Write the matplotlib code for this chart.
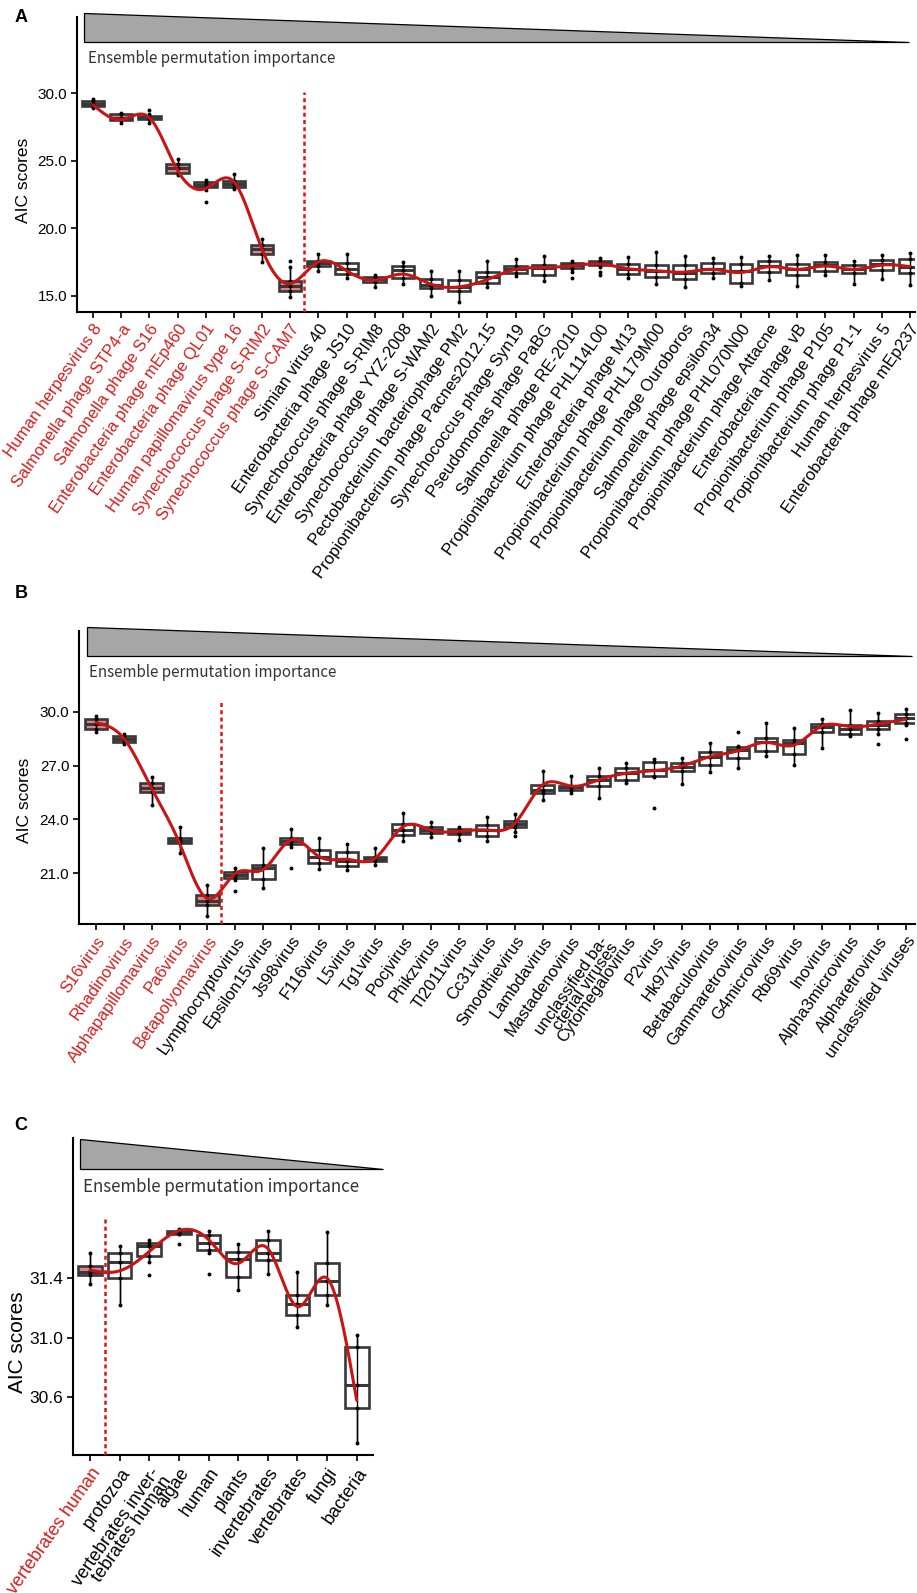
import numpy as np
import matplotlib
matplotlib.use("Agg")
import matplotlib.pyplot as plt
from matplotlib.patches import Polygon
from matplotlib.transforms import ScaledTranslation

plt.rcParams['font.family'] = ['Liberation Sans', 'DejaVu Sans']

# ---- panel A: species ----
a_labels = ["Human herpesvirus 8", "Salmonella phage STP4-a", "Salmonella phage S16",
            "Enterobacteria phage mEp460", "Enterobacteria phage QL01",
            "Human papillomavirus type 16", "Synechococcus phage S-RIM2",
            "Synechococcus phage S-CAM7", "Simian virus 40", "Enterobacteria phage JS10",
            "Synechococcus phage S-RIM8", "Enterobacteria phage YYZ-2008",
            "Synechococcus phage S-WAM2", "Pectobacterium bacteriophage PM2",
            "Propionibacterium phage Pacnes2012.15", "Synechococcus phage Syn19",
            "Pseudomonas phage PaBG", "Salmonella phage RE-2010",
            "Propionibacterium phage PHL114L00", "Enterobacteria phage M13",
            "Propionibacterium phage PHL179M00", "Propionibacterium phage Ouroboros",
            "Salmonella phage epsilon34", "Propionibacterium phage PHL070N00",
            "Propionibacterium phage Attacne", "Enterobacteria phage vB",
            "Propionibacterium phage P105", "Propionibacterium phage P1-1",
            "Human herpesvirus 5", "Enterobacteria phage mEp237"]
a_q1 = [29.06, 28.02, 28.07, 24.12, 23.03, 23.03, 18.09, 15.35, 17.2, 16.6, 16.0, 16.3, 15.55,
        15.37, 15.96, 16.66, 16.56, 17.08, 17.27, 16.61, 16.36, 16.21, 16.66, 15.92, 16.78,
        16.53, 16.83, 16.71, 16.9, 16.71]
a_med = [29.2, 28.2, 28.2, 24.45, 23.2, 23.3, 18.45, 15.7, 17.4, 16.95, 16.2, 16.9, 15.8,
         15.65, 16.4, 17.0, 17.05, 17.3, 17.45, 17.0, 16.85, 16.7, 16.95, 16.8, 17.2, 17.0,
         17.25, 17.0, 17.35, 17.1]
a_q3 = [29.43, 28.47, 28.34, 24.76, 23.4, 23.5, 18.76, 16.09, 17.57, 17.4, 16.4, 17.2, 16.27,
        16.16, 16.78, 17.2, 17.3, 17.45, 17.57, 17.35, 17.27, 17.27, 17.4, 17.32, 17.6, 17.37,
        17.5, 17.27, 17.67, 17.7]
a_lo = [28.9, 27.78, 27.8, 23.97, 22.83, 22.9, 17.5, 14.93, 16.8, 16.3, 15.67, 15.9, 15.0,
        14.56, 15.67, 16.46, 16.1, 17.0, 17.1, 16.3, 15.87, 15.67, 16.34, 15.72, 16.16, 15.72,
        16.5, 15.9, 16.2, 15.79]
a_hi = [29.6, 28.57, 28.5, 25.1, 23.57, 24.0, 19.2, 17.15, 18.1, 18.06, 16.53, 17.53, 16.8,
        16.85, 17.57, 17.7, 17.94, 17.6, 17.82, 17.9, 18.26, 17.94, 17.77, 17.84, 17.94, 18.0,
        18.0, 17.6, 17.99, 18.19]
a_out_idx = [2, 4, 7, 17, 17, 18, 18]
a_out_val = [28.8, 21.94, 17.57, 16.78, 16.3, 16.78, 16.53]
a_fit = [29.15, 28.05, 28.2, 24.3, 22.95, 23.45, 18.45, 15.9, 17.5, 16.85, 16.15, 16.6, 15.85,
         15.65, 16.2, 16.95, 17.08, 17.22, 17.35, 17.0, 16.85, 16.75, 16.95, 16.72, 17.15,
         16.95, 17.2, 16.95, 17.27, 17.15]

# ---- panel B: genera ----
b_labels = ["S16virus", "Rhadinovirus", "Alphapapillomavirus", "Pa6virus", "Betapolyomavirus",
            "Lymphocryptovirus", "Epsilon15virus", "Js98virus", "F116virus", "L5virus",
            "Tg1virus", "Pocjvirus", "Phikzvirus", "Tl2011virus", "Cc31virus", "Smoothievirus",
            "Lambdavirus", "Mastadenovirus", "unclassified ba-\ncterial viruses",
            "Cytomegalovirus", "P2virus", "Hk97virus", "Betabaculovirus", "Gammaretrovirus",
            "G4microvirus", "Rb69virus", "Inovirus", "Alpha3microvirus", "Alpharetrovirus",
            "unclassified viruses"]
b_q1 = [29.04, 28.29, 25.53, 22.67, 19.24, 20.76, 20.71, 22.62, 21.56, 21.41, 21.71, 23.12,
        23.27, 23.19, 23.08, 23.56, 25.45, 25.64, 25.86, 26.2, 26.42, 26.72, 27.03, 27.4, 27.81,
        27.64, 28.85, 28.74, 29.02, 29.39]
b_med = [29.3, 28.5, 25.77, 22.8, 19.47, 20.9, 21.28, 22.8, 21.89, 21.7, 21.8, 23.41, 23.4,
         23.3, 23.41, 23.75, 25.64, 25.8, 26.2, 26.57, 26.75, 26.94, 27.5, 27.87, 28.33, 28.24,
         29.13, 29.05, 29.26, 29.63]
b_q3 = [29.61, 28.65, 26.05, 22.95, 19.8, 21.1, 21.47, 22.99, 22.3, 22.21, 21.93, 23.73,
        23.56, 23.47, 23.69, 23.93, 25.92, 25.88, 26.44, 26.86, 27.22, 27.16, 27.77, 28.01,
        28.55, 28.42, 29.31, 29.26, 29.5, 29.85]
b_lo = [28.89, 28.2, 24.8, 22.15, 18.63, 20.65, 20.17, 22.45, 21.22, 21.19, 21.47, 22.82,
        23.04, 22.86, 22.82, 23.32, 25.08, 25.45, 25.18, 26.05, 26.38, 26.0, 26.66, 26.86,
        27.53, 27.03, 28.0, 28.65, 28.76, 29.26]
b_hi = [29.76, 28.76, 26.35, 23.56, 20.35, 21.32, 22.4, 23.45, 22.95, 22.63, 22.4, 24.38,
        23.84, 23.56, 24.12, 24.3, 26.72, 26.44, 26.85, 27.12, 27.37, 27.44, 28.27, 28.1,
        29.39, 29.07, 29.57, 30.09, 29.94, 30.15]
b_out_idx = [5, 7, 15, 20, 23, 28, 29]
b_out_val = [20.0, 21.32, 23.08, 24.62, 28.89, 28.2, 28.48]
b_fit = [29.39, 28.52, 25.73, 22.67, 19.6, 21.0, 21.22, 22.86, 21.93, 21.78, 21.84, 23.6,
         23.41, 23.34, 23.41, 23.78, 25.92, 25.86, 26.2, 26.57, 26.72, 26.98, 27.5, 27.83,
         28.29, 28.14, 29.2, 29.17, 29.31, 29.57]

# ---- panel C: hosts ----
c_labels = ["vertebrates human", "protozoa", "vertebrates inver-\ntebrates human", "algae",
            "human", "plants", "invertebrates", "vertebrates", "fungi", "bacteria"]
c_q1 = [31.42, 31.40, 31.55, 31.70, 31.59, 31.41, 31.52, 31.15, 31.29, 30.53]
c_med = [31.44, 31.51, 31.62, 31.71, 31.64, 31.53, 31.57, 31.23, 31.38, 30.68]
c_q3 = [31.48, 31.57, 31.64, 31.72, 31.69, 31.58, 31.66, 31.29, 31.50, 30.94]
c_lo = [31.36, 31.22, 31.51, 31.70, 31.57, 31.32, 31.43, 31.07, 31.22, 30.29]
c_hi = [31.57, 31.62, 31.66, 31.73, 31.72, 31.63, 31.72, 31.44, 31.71, 31.02]
c_out_idx = [2, 3, 4]
c_out_val = [31.42, 31.63, 31.43]
c_fit = [31.455, 31.45, 31.58, 31.72, 31.66, 31.50, 31.60, 31.21, 31.40, 30.58]

RED = '#d41e1e'
EDGE = '#383838'


def natural_spline(x, y, xs):
    x = np.asarray(x, float)
    y = np.asarray(y, float)
    n = len(x)
    h = np.diff(x)
    A = np.zeros((n, n))
    r = np.zeros(n)
    A[0, 0] = A[-1, -1] = 1
    for i in range(1, n - 1):
        A[i, i - 1] = h[i - 1]
        A[i, i] = 2 * (h[i - 1] + h[i])
        A[i, i + 1] = h[i]
        r[i] = 3 * ((y[i + 1] - y[i]) / h[i] - (y[i] - y[i - 1]) / h[i - 1])
    c = np.linalg.solve(A, r)
    b = (y[1:] - y[:-1]) / h - h * (2 * c[:-1] + c[1:]) / 3
    d = (c[1:] - c[:-1]) / (3 * h)
    k = np.clip(np.searchsorted(x, xs) - 1, 0, n - 2)
    dx = xs - x[k]
    return y[k] + b[k] * dx + c[k] * dx ** 2 + d[k] * dx ** 3


def panel(ax, labels, q1, med, q3, lo, hi, out_idx, out_val, fit, n_red,
          xlim, ylim, yticks, tri, txt, fs_x, fs_y, fs_txt):
    n = len(labels)
    pos = np.arange(n)
    stats = [dict(q1=q1[i], med=med[i], q3=q3[i], whislo=lo[i], whishi=hi[i], fliers=[])
             for i in range(n)]
    bp = ax.bxp(stats, positions=pos, widths=0.8, patch_artist=True, showcaps=False,
                boxprops=dict(edgecolor=EDGE, linewidth=1.9),
                medianprops=dict(color=EDGE, linewidth=2.2),
                whiskerprops=dict(color='black', linewidth=1.0), manage_ticks=False)
    for i, b in enumerate(bp['boxes']):
        b.set_facecolor('#e08585' if i < n_red else 'white')
        b.set_zorder(2)
    # raw observations shown as a line with dots
    ax.vlines(pos, lo, hi, color='black', linewidth=1.0, zorder=3)
    for arr in (lo, q1, med, q3, hi):
        ax.plot(pos, arr, 'o', color='black', ms=1.8, zorder=3)
    ax.plot(out_idx, out_val, 'o', color='black', ms=1.8, zorder=3)

    xs = np.linspace(0, n - 1, 600)
    ax.plot(xs, natural_spline(pos, fit, xs), color='#c81414', linewidth=2.2, zorder=4,
            solid_capstyle='round')
    ax.axvline(n_red - 0.5, ymax=tri[4], color='#e51010', linewidth=1.8,
               dashes=(1.6, 1.3), zorder=5)

    ax.set_xlim(*xlim)
    ax.set_ylim(*ylim)
    ax.set_yticks(yticks)
    ax.set_yticklabels([f"{v:.1f}" for v in yticks], fontsize=fs_y)
    ax.set_xticks(pos)
    ax.set_xticklabels(labels, rotation=55, ha='right', va='top',
                       rotation_mode='anchor', fontsize=fs_x, multialignment='right')
    shift = ScaledTranslation(0.05, -0.04, fig.dpi_scale_trans)
    shift2 = ScaledTranslation(-0.012, 0.004, fig.dpi_scale_trans)
    for i, t in enumerate(ax.get_xticklabels()):
        t.set_color(RED if i < n_red else 'black')
        if '\n' in labels[i]:
            t.set_linespacing(0.78)
            t.set_transform(t.get_transform() + shift2)
        else:
            t.set_transform(t.get_transform() + shift)
    for s in ('top', 'right'):
        ax.spines[s].set_visible(False)
    for s in ('left', 'bottom'):
        ax.spines[s].set_linewidth(1.5)
    ax.tick_params(axis='both', length=4, width=1.2, color='black', pad=3)

    x0, x1, ytop, ybot = tri[:4]
    ax.add_patch(Polygon([(x0, ytop), (x0, ybot), (x1, ybot)], closed=True,
                         transform=ax.transAxes, facecolor='#a6a6a6', edgecolor='black',
                         linewidth=0.9, clip_on=False, zorder=1))
    ax.text(txt[0], txt[1], "Ensemble permutation importance", transform=ax.transAxes,
            ha='left', va='center', fontsize=fs_txt, color='#333333',
            family=['Noto Sans CJK SC', 'DejaVu Sans'])


W, H = 917, 1593
fig = plt.figure(figsize=(W / 100, H / 100), dpi=100)


def add_axes(left, right, top, bottom):
    return fig.add_axes([left / W, (H - bottom) / H, (right - left) / W, (bottom - top) / H])


axA = add_axes(77, 915, 17, 312)
panel(axA, a_labels, a_q1, a_med, a_q3, a_lo, a_hi, a_out_idx, a_out_val, a_fit, 8,
      (-0.568, 29.18), (13.79, 35.66), [15, 20, 25, 30],
      (0.0084, 0.993, 1.0136, 0.915, 0.745), (0.013, 0.858), 12, 11, 10.9)

axB = add_axes(79, 915, 631, 924)
panel(axB, b_labels, b_q1, b_med, b_q3, b_lo, b_hi, b_out_idx, b_out_val, b_fit, 5,
      (-0.6, 29.33), (18.18, 34.49), [21, 24, 27, 30],
      (0.0096, 0.996, 1.0137, 0.9147, 0.758), (0.012, 0.8567), 12, 11, 10.9)

axC = add_axes(72.7, 373, 1138, 1455)
panel(axC, c_labels, c_q1, c_med, c_q3, c_lo, c_hi, c_out_idx, c_out_val, c_fit, 1,
      (-0.584, 9.55), (30.212, 32.343), [30.6, 31.0, 31.4],
      (0.024, 1.033, 0.9968, 0.902, 0.745), (0.034, 0.8454), 13, 12.5, 12.2)

for lab, x, y in (("A", 21, 18), ("B", 21, 593), ("C", 21, 1125)):
    fig.text(x / W, 1 - y / H, lab, fontsize=13, fontweight='bold', ha='center', va='center')
for x, y, fs in ((24, 180, 12.5), (24.5, 800, 12.5), (17.5, 1342, 15)):
    fig.text(x / W, 1 - y / H, "AIC scores", fontsize=fs, rotation=90, ha='center', va='center')

fig.savefig("out.png", dpi=100)
